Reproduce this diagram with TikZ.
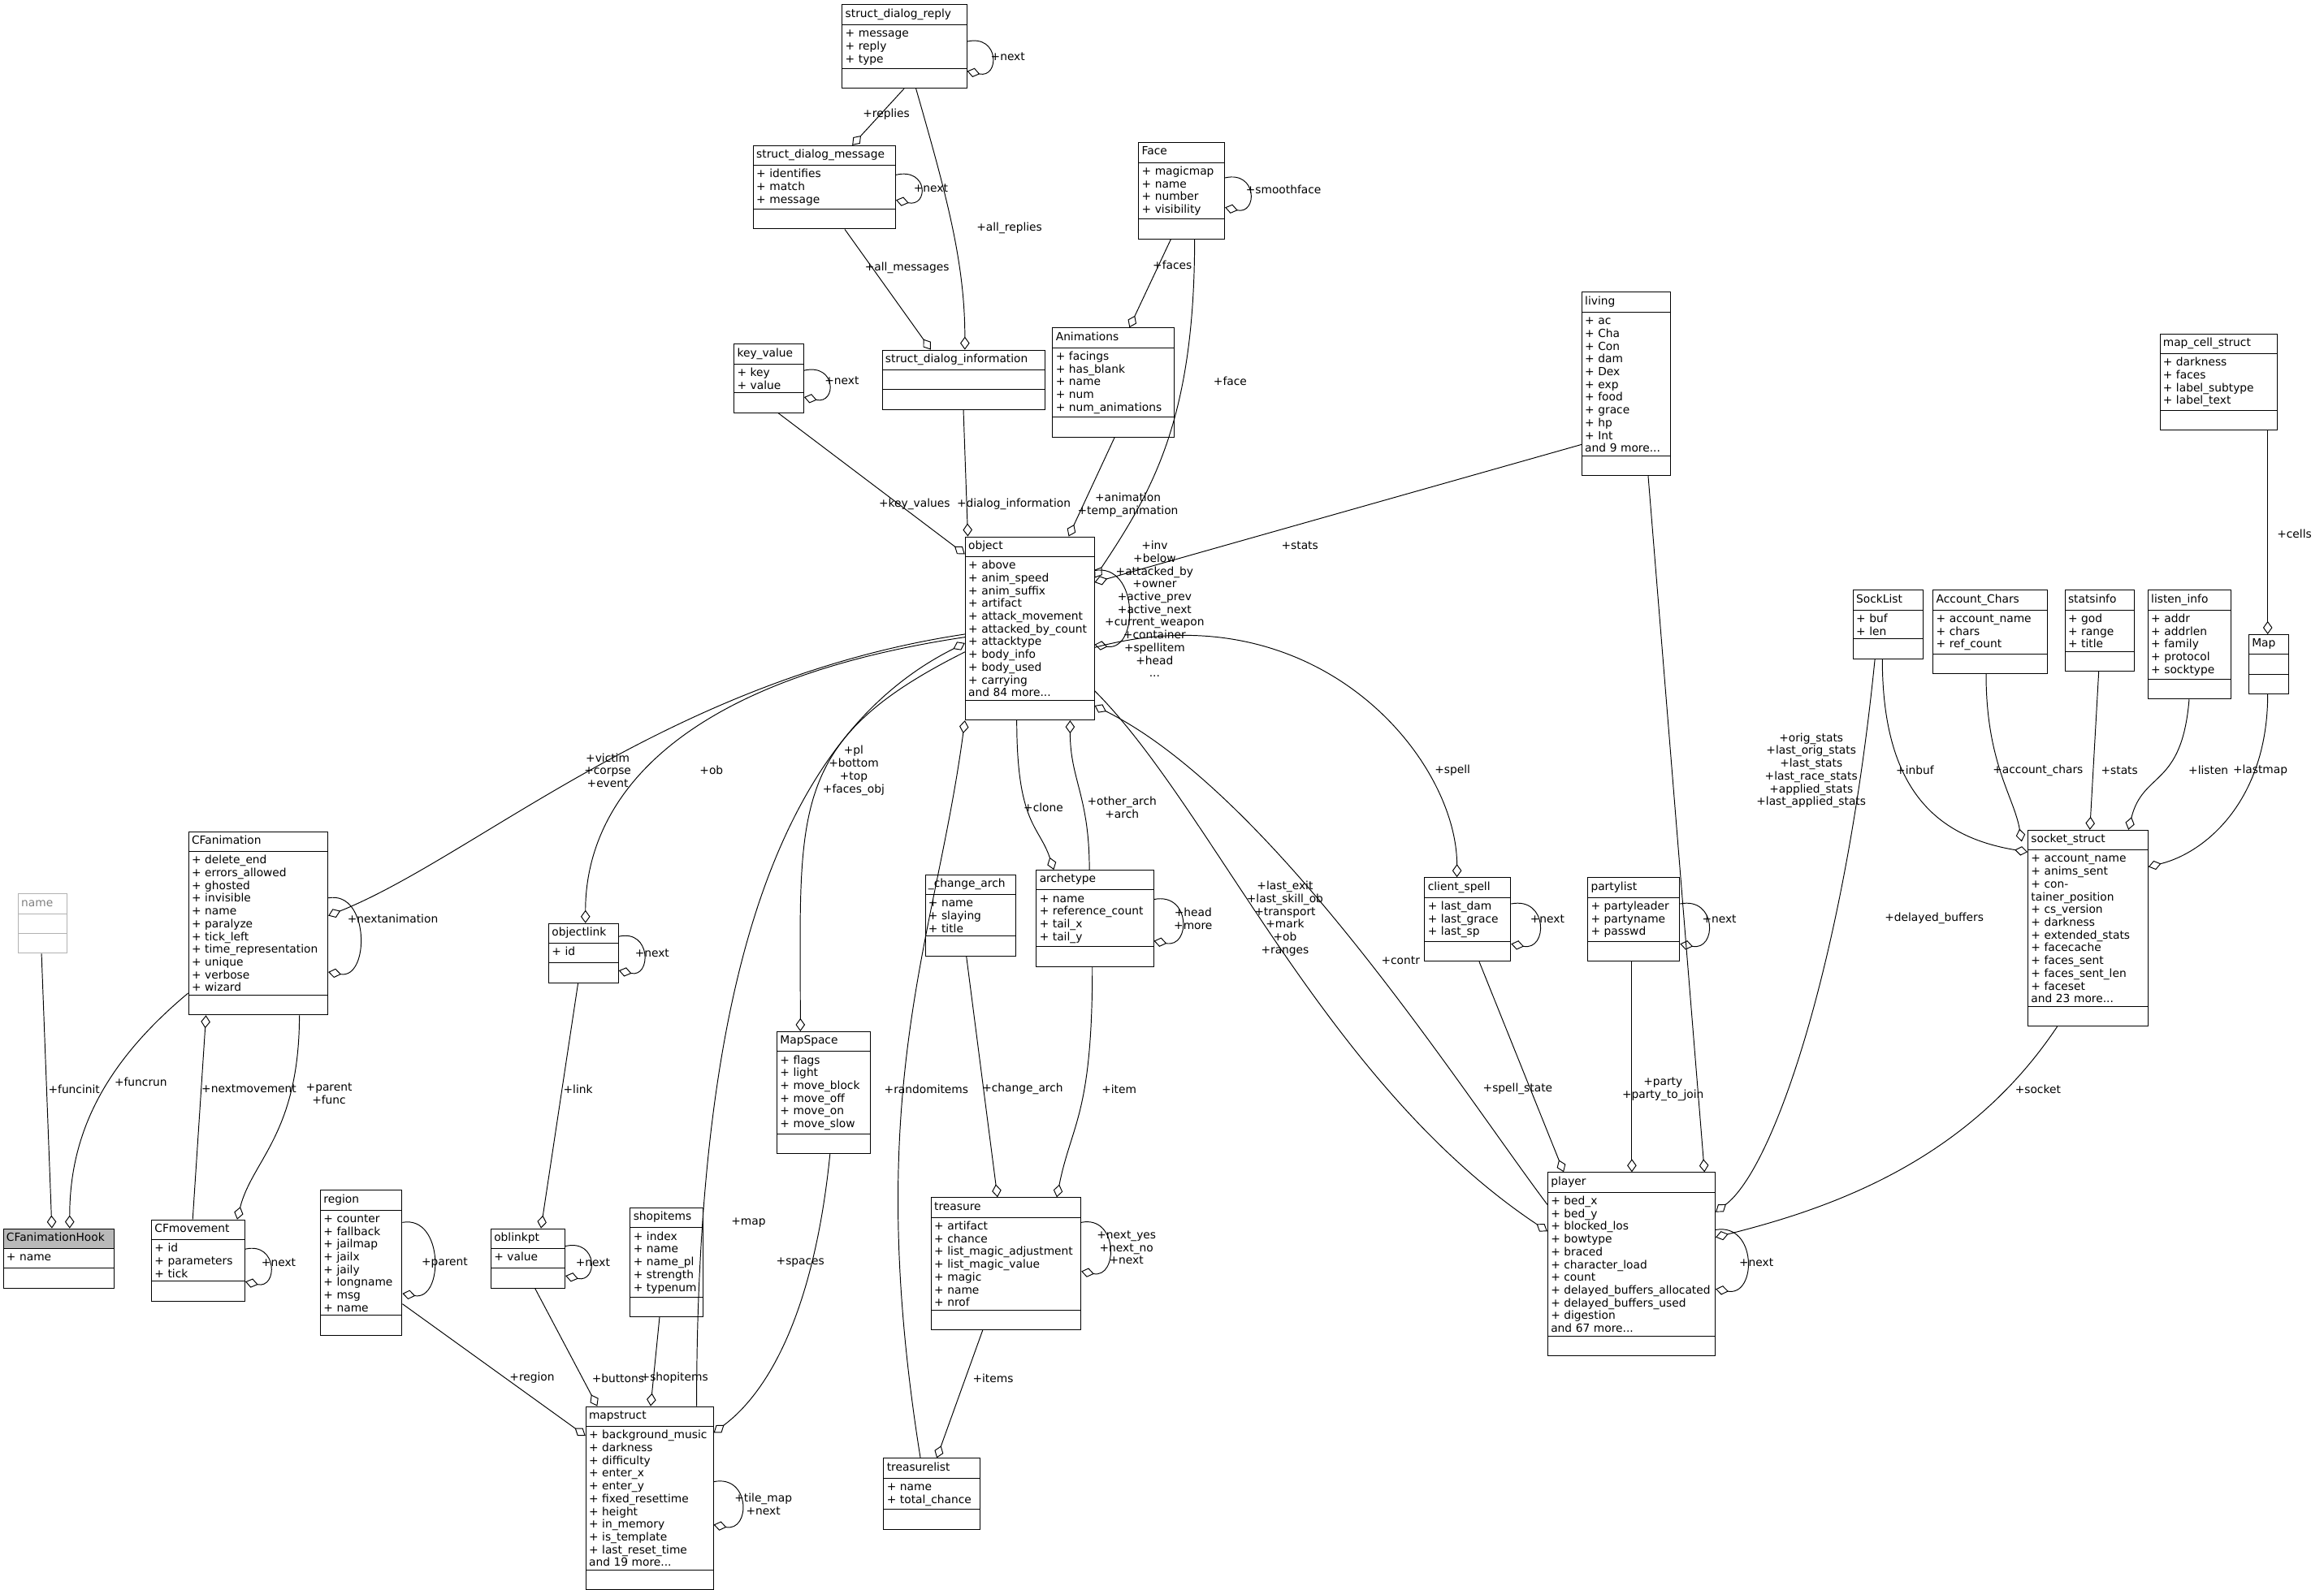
\documentclass[tikz,border=0pt]{standalone}
\usepackage{fontspec}
\setmainfont{DejaVu Sans}
\usetikzlibrary{shapes.multipart,arrows.meta,calc}

\tikzset{
  umlcls/.style={rectangle split, rectangle split parts=3, draw=black, line width=0.3pt,
    font=\fontsize{4.3}{4.9}\selectfont, inner sep=1.2pt, anchor=north west, align=left,
    rectangle split part align={center,left,left}},
  greycls/.style={umlcls, draw=gray!60, text=gray},
  hookcls/.style={umlcls, rectangle split part fill={gray!55,white,white}},
  agg/.style={-{Diamond[open,length=5pt,width=3.6pt]}, line width=0.3pt},
  lbl/.style={font=\fontsize{4.3}{4.9}\selectfont, align=center, inner sep=0pt}
}

% class box: name, left, top, width, title, attributes
\newcommand\clsbox[7][umlcls]{%
  \pgfmathsetlengthmacro\bw{#5*0.02cm-2.4pt}%
  \node[#1, text width=\bw] (#2) at (#3,#4) {\strut #6\nodepart{two}\strut #7\nodepart{three}\strut};}

\begin{document}
\begin{tikzpicture}[x=0.02cm,y=-0.02cm]
\useasboundingbox (0,0) rectangle (1568,1073);

% classes
\clsbox{reply}{568}{3}{84}{struct\_dialog\_reply}{+ message\\+ reply\\+ type}
\clsbox{message}{508}{98}{96}{struct\_dialog\_message}{+ identifies\\+ match\\+ message}
\clsbox{face}{768}{96}{58}{Face}{+ magicmap\\+ name\\+ number\\+ visibility}
\clsbox{keyv}{495}{232}{47}{key\_value}{+ key\\+ value}
\clsbox{dinfo}{595}{236}{110}{struct\_dialog\_information}{}
\clsbox{anim}{710}{221}{82}{Animations}{+ facings\\+ has\_blank\\+ name\\+ num\\+ num\_animations}
\clsbox{living}{1067}{197}{60}{living}{+ ac\\+ Cha\\+ Con\\+ dam\\+ Dex\\+ exp\\+ food\\+ grace\\+ hp\\+ Int\\and 9 more...}
\clsbox{mapcell}{1457}{225}{79}{map\_cell\_struct}{+ darkness\\+ faces\\+ label\_subtype\\+ label\_text}
\clsbox{object}{651}{362}{87}{object}{+ above\\+ anim\_speed\\+ anim\_suffix\\+ artifact\\+ attack\_movement\\+ attacked\_by\_count\\+ attacktype\\+ body\_info\\+ body\_used\\+ carrying\\and 84 more...}
\clsbox{socklist}{1250}{398}{47}{SockList}{+ buf\\+ len}
\clsbox{accchars}{1304}{398}{77}{Account\_Chars}{+ account\_name\\+ chars\\+ ref\_count}
\clsbox{statsinfo}{1393}{398}{47}{statsinfo}{+ god\\+ range\\+ title}
\clsbox{listen}{1449}{398}{56}{listen\_info}{+ addr\\+ addrlen\\+ family\\+ protocol\\+ socktype}
\clsbox{map}{1517}{428}{27}{Map}{}
\clsbox[greycls]{name}{12}{603}{33}{name}{}
\clsbox{cfanim}{127}{561}{94}{CFanimation}{+ delete\_end\\+ errors\_allowed\\+ ghosted\\+ invisible\\+ name\\+ paralyze\\+ tick\_left\\+ time\_representation\\+ unique\\+ verbose\\+ wizard}
\clsbox{objlink}{370}{623}{47}{objectlink}{+ id}
\clsbox{changearch}{624}{590}{61}{\_change\_arch}{+ name\\+ slaying\\+ title}
\clsbox{arch}{699}{587}{79}{archetype}{+ name\\+ reference\_count\\+ tail\_x\\+ tail\_y}
\clsbox{cspell}{961}{592}{58}{client\_spell}{+ last\_dam\\+ last\_grace\\+ last\_sp}
\clsbox{party}{1071}{592}{62}{partylist}{+ partyleader\\+ partyname\\+ passwd}
\clsbox{socket}{1368}{560}{81}{socket\_struct}{+ account\_name\\+ anims\_sent\\+ container\_position\\+ cs\_version\\+ darkness\\+ extended\_stats\\+ facecache\\+ faces\_sent\\+ faces\_sent\_len\\+ faceset\\and 23 more...}
\clsbox{mapspace}{524}{696}{63}{MapSpace}{+ flags\\+ light\\+ move\_block\\+ move\_off\\+ move\_on\\+ move\_slow}
\clsbox[hookcls]{hook}{2}{829}{75}{CFanimationHook}{+ name}
\clsbox{cfmove}{102}{823}{63}{CFmovement}{+ id\\+ parameters\\+ tick}
\clsbox{region}{216}{803}{55}{region}{+ counter\\+ fallback\\+ jailmap\\+ jailx\\+ jaily\\+ longname\\+ msg\\+ name}
\clsbox{oblinkpt}{331}{829}{50}{oblinkpt}{+ value}
\clsbox{shop}{425}{815}{49}{shopitems}{+ index\\+ name\\+ name\_pl\\+ strength\\+ typenum}
\clsbox{treasure}{628}{808}{101}{treasure}{+ artifact\\+ chance\\+ list\_magic\_adjustment\\+ list\_magic\_value\\+ magic\\+ name\\+ nrof}
\clsbox{player}{1044}{791}{113}{player}{+ bed\_x\\+ bed\_y\\+ blocked\_los\\+ bowtype\\+ braced\\+ character\_load\\+ count\\+ delayed\_buffers\_allocated\\+ delayed\_buffers\_used\\+ digestion\\and 67 more...}
\clsbox{mapstruct}{395}{949}{86}{mapstruct}{+ background\_music\\+ darkness\\+ difficulty\\+ enter\_x\\+ enter\_y\\+ fixed\_resettime\\+ height\\+ in\_memory\\+ is\_template\\+ last\_reset\_time\\and 19 more...}
\clsbox{tlist}{596}{984}{65}{treasurelist}{+ name\\+ total\_chance}

% connections
\draw[agg] ($(reply.south west)+(42,0)$) -- ($(message.north west)+(67,0)$);
\draw[agg] ($(reply.south west)+(50,0)$) .. controls +(20,70) and +(0,-60) .. ($(dinfo.north west)+(56,0)$);
\draw[agg] ($(reply.north east)+(0,25)$) .. controls +(22,-5) and +(22,5) .. ($(reply.north east)+(0,45)$);
\draw[agg] ($(message.north east)+(0,20)$) .. controls +(22,-5) and +(22,5) .. ($(message.north east)+(0,37)$);
\draw[agg] ($(message.south west)+(62,0)$) -- ($(dinfo.north west)+(33,0)$);
\draw[agg] ($(face.north east)+(0,24)$) .. controls +(22,-5) and +(22,5) .. ($(face.north east)+(0,44)$);
\draw[agg] ($(face.south west)+(22,0)$) -- ($(anim.north west)+(52,0)$);
\draw[agg] ($(face.south west)+(38,0)$) .. controls +(0,120) and +(40,-60) .. ($(object.north east)+(0,28)$);
\draw[agg] ($(keyv.north east)+(0,18)$) .. controls +(22,-5) and +(22,5) .. ($(keyv.north east)+(0,36)$);
\draw[agg] ($(keyv.south west)+(30,0)$) -- ($(object.north west)+(0,12)$);
\draw[agg] ($(dinfo.south west)+(55,0)$) -- ($(object.north west)+(2,0)$);
\draw[agg] ($(anim.south west)+(42,0)$) -- ($(object.north west)+(70,0)$);
\draw[agg] ($(living.north west)+(0,103)$) -- ($(object.north east)+(0,31)$);
\draw[agg] ($(living.south west)+(45,0)$) -- ($(player.north west)+(106,0)$);
\draw[agg] ($(mapcell.south west)+(73,0)$) -- ($(map.north west)+(13,0)$);
\draw[agg] ($(object.north east)+(0,23)$) .. controls +(30,-5) and +(30,5) .. ($(object.north east)+(0,73)$);
\draw[agg] ($(object.north west)+(0,66)$) .. controls +(-200,30) and +(100,-40) .. ($(cfanim.north east)+(0,57)$);
\draw[agg] ($(object.north west)+(0,68)$) .. controls +(-200,30) and +(0,-80) .. ($(objlink.north west)+(25,0)$);
\draw[agg] ($(mapstruct.north west)+(75,0)$) .. controls +(0,-300) and +(-120,60) .. ($(object.north west)+(0,72)$);
\draw[agg] ($(object.north west)+(0,78)$) .. controls +(-120,60) and +(0,-150) .. ($(mapspace.north west)+(16,0)$);
\draw[agg] ($(tlist.north west)+(25,0)$) .. controls +(-40,-250) and +(-20,150) .. (object.south west);
\draw[agg] ($(object.south west)+(35,0)$) .. controls +(0,70) and +(-10,-30) .. ($(arch.north west)+(12,0)$);
\draw[agg] ($(arch.north west)+(36,0)$) .. controls +(0,-50) and +(0,40) .. ($(object.south west)+(71,0)$);
\draw[agg] ($(object.north east)+(0,75)$) .. controls +(150,-40) and +(0,-80) .. ($(cspell.north west)+(22,0)$);
\draw[agg] ($(object.south east)+(0,-20)$) .. controls +(80,80) and +(-150,-100) .. ($(player.north west)+(0,40)$);
\draw[agg] ($(player.north west)+(0,22)$) .. controls +(-60,-80) and +(120,60) .. ($(object.south east)+(0,-10)$);
\draw[agg] ($(cfanim.north east)+(0,45)$) .. controls +(28,-5) and +(28,5) .. ($(cfanim.north east)+(0,95)$);
\draw[agg] ($(cfanim.south west)+(0,-15)$) .. controls +(-60,50) and +(0,-60) .. ($(hook.north west)+(45,0)$);
\draw[agg] ($(name.south west)+(16,0)$) -- ($(hook.north west)+(33,0)$);
\draw[agg] ($(cfanim.south west)+(75,0)$) .. controls +(0,80) and +(10,-40) .. ($(cfmove.north west)+(58,0)$);
\draw[agg] ($(cfmove.north west)+(28,0)$) -- ($(cfanim.south west)+(12,0)$);
\draw[agg] ($(cfmove.north east)+(0,20)$) .. controls +(22,-5) and +(22,5) .. ($(cfmove.north east)+(0,42)$);
\draw[agg] ($(objlink.north east)+(0,9)$) .. controls +(22,-5) and +(22,5) .. ($(objlink.north east)+(0,32)$);
\draw[agg] ($(objlink.south west)+(20,0)$) -- ($(oblinkpt.north west)+(34,0)$);
\draw[agg] ($(oblinkpt.north east)+(0,12)$) .. controls +(22,-5) and +(22,5) .. ($(oblinkpt.north east)+(0,32)$);
\draw[agg] ($(oblinkpt.south west)+(30,0)$) -- ($(mapstruct.north west)+(8,0)$);
\draw[agg] ($(region.north east)+(0,22)$) .. controls +(28,-5) and +(28,5) .. ($(region.north east)+(0,70)$);
\draw[agg] ($(region.north east)+(0,77)$) -- ($(mapstruct.north west)+(0,20)$);
\draw[agg] ($(shop.south west)+(20,0)$) -- ($(mapstruct.north west)+(44,0)$);
\draw[agg] ($(mapspace.south west)+(36,0)$) .. controls +(-10,100) and +(40,-30) .. ($(mapstruct.north east)+(0,18)$);
\draw[agg] ($(mapstruct.north east)+(0,51)$) .. controls +(25,-5) and +(25,5) .. ($(mapstruct.north east)+(0,80)$);
\draw[agg] ($(changearch.south west)+(28,0)$) -- ($(treasure.north west)+(45,0)$);
\draw[agg] ($(arch.north east)+(0,20)$) .. controls +(25,-5) and +(25,5) .. ($(arch.north east)+(0,48)$);
\draw[agg] ($(arch.south west)+(38,0)$) .. controls +(0,100) and +(10,-50) .. ($(treasure.north west)+(85,0)$);
\draw[agg] ($(treasure.north east)+(0,17)$) .. controls +(25,-5) and +(25,5) .. ($(treasure.north east)+(0,50)$);
\draw[agg] ($(treasure.south west)+(35,0)$) -- ($(tlist.north west)+(36,0)$);
\draw[agg] ($(cspell.north east)+(0,18)$) .. controls +(25,-5) and +(25,5) .. ($(cspell.north east)+(0,45)$);
\draw[agg] ($(cspell.south west)+(37,0)$) -- ($(player.north west)+(11,0)$);
\draw[agg] ($(party.north east)+(0,18)$) .. controls +(25,-5) and +(25,5) .. ($(party.north east)+(0,45)$);
\draw[agg] ($(party.south west)+(30,0)$) -- ($(player.north west)+(57,0)$);
\draw[agg] ($(player.north east)+(0,39)$) .. controls +(28,-5) and +(28,5) .. ($(player.north east)+(0,79)$);
\draw[agg] ($(socklist.south west)+(20,0)$) .. controls +(0,90) and +(-60,-10) .. ($(socket.north west)+(0,15)$);
\draw[agg] ($(socklist.south west)+(15,0)$) .. controls +(-20,200) and +(40,-30) .. ($(player.north east)+(0,27)$);
\draw[agg] ($(accchars.south west)+(36,0)$) .. controls +(0,60) and +(-5,-30) .. ($(socket.north west)+(-4,8)$);
\draw[agg] ($(statsinfo.south west)+(23,0)$) -- ($(socket.north west)+(42,0)$);
\draw[agg] ($(listen.south west)+(28,0)$) .. controls +(-5,60) and +(10,-40) .. ($(socket.north west)+(68,0)$);
\draw[agg] ($(map.south west)+(13,0)$) .. controls +(0,70) and +(40,-10) .. ($(socket.north east)+(0,25)$);
\draw[agg] ($(socket.south west)+(20,0)$) .. controls +(-60,90) and +(80,-20) .. ($(player.north east)+(0,44)$);

% labels
\foreach \x/\y/\t [count=\i] in {
  598/77/{+replies}, 681/154/{+all\_replies}, 680/38/{+next}, 628/127/{+next},
  612/181/{+all\_messages}, 866/128/{+smoothface}, 791/179/{+faces}, 830/257/{+face},
  568/257/{+next}, 617/340/{+key\_values}, 684/340/{+dialog\_information},
  761/341/{+animation\\+temp\_animation}, 877/368/{+stats},
  1222/520/{+orig\_stats\\+last\_orig\_stats\\+last\_stats\\+last\_race\_stats\\+applied\_stats\\+last\_applied\_stats},
  1548/360/{+cells},
  779/411/{+inv\\+below\\+attacked\_by\\+owner\\+active\_prev\\+active\_next\\+current\_weapon\\+container\\+spellitem\\+head\\...},
  410/520/{+victim\\+corpse\\+event}, 480/520/{+ob}, 505/825/{+map},
  576/520/{+pl\\+bottom\\+top\\+faces\_obj}, 625/735/{+randomitems},
  704/545/{+clone}, 757/545/{+other\_arch\\+arch}, 980/520/{+spell},
  867/620/{+last\_exit\\+last\_skill\_ob\\+transport\\+mark\\+ob\\+ranges},
  945/648/{+contr}, 265/620/{+nextanimation}, 95/730/{+funcrun}, 50/735/{+funcinit},
  222/738/{+parent\\+func}, 168/735/{+nextmovement}, 188/852/{+next},
  440/643/{+next}, 390/735/{+link}, 400/852/{+next}, 417/930/{+buttons},
  300/852/{+parent}, 359/930/{+region}, 455/930/{+shopitems}, 540/852/{+spaces},
  515/1015/{+tile\_map\\+next}, 690/735/{+change\_arch}, 805/620/{+head\\+more},
  755/735/{+item}, 760/842/{+next\_yes\\+next\_no\\+next}, 670/930/{+items},
  1044/620/{+next}, 1024/735/{+spell\_state}, 1160/620/{+next},
  1122/735/{+party\\+party\_to\_join}, 1185/852/{+next}, 1292/520/{+inbuf},
  1305/620/{+delayed\_buffers}, 1375/520/{+account\_chars}, 1430/520/{+stats},
  1490/520/{+listen}, 1525/520/{+lastmap}, 1375/735/{+socket}}
  {\node[lbl] (lbl\i) at (\x,\y) {\t};}
\end{tikzpicture}
\end{document}
